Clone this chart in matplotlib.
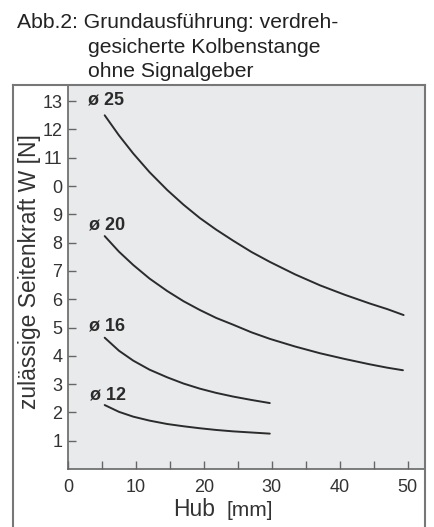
import matplotlib
matplotlib.use("Agg")
import matplotlib.pyplot as plt
from matplotlib.lines import Line2D

plt.rcParams['font.family'] = ['Liberation Sans', 'DejaVu Sans']

# Hub [mm] / zulässige Seitenkraft W [N]
hub_25 = [5.4, 7.5, 9.6, 12.0, 14.6, 17.0, 19.4, 21.8, 24.3, 27.0, 29.7,
          33.4, 37.1, 40.7, 44.4, 47.0, 49.4]
kraft_25 = [12.5, 11.79, 11.15, 10.49, 9.86, 9.34, 8.87, 8.46, 8.07, 7.67, 7.32,
            6.88, 6.49, 6.16, 5.85, 5.65, 5.44]

hub_20 = [5.4, 7.5, 9.6, 12.0, 14.6, 17.0, 19.4, 21.8, 24.3, 27.0, 29.7,
          33.4, 37.1, 40.7, 44.4, 47.0, 49.3]
kraft_20 = [8.23, 7.68, 7.21, 6.73, 6.29, 5.93, 5.62, 5.34, 5.10, 4.83, 4.60,
            4.33, 4.09, 3.89, 3.70, 3.58, 3.49]

hub_16 = [5.4, 7.5, 9.6, 12.0, 14.6, 17.0, 19.4, 21.8, 24.3, 27.0, 29.7]
kraft_16 = [4.64, 4.18, 3.83, 3.51, 3.24, 3.02, 2.84, 2.69, 2.56, 2.44, 2.33]

hub_12 = [5.4, 7.5, 9.6, 12.0, 14.6, 17.0, 19.4, 21.8, 24.3, 27.0, 29.7]
kraft_12 = [2.26, 2.02, 1.85, 1.71, 1.59, 1.51, 1.44, 1.38, 1.33, 1.29, 1.25]

curve_labels = ['ø 25', 'ø 20', 'ø 16', 'ø 12']
label_x = [2.9, 3.1, 3.1, 3.2]
label_y = [13.04, 8.62, 5.05, 2.61]

x_ticks = [0, 10, 20, 30, 40, 50]
x_minor = [5, 15, 25, 35, 45]
y_ticks = list(range(1, 14))
y_tick_labels = ['1', '2', '3', '4', '5', '6', '7', '8', '9', '0', '11', '12', '13']

title_lines = ['Abb.2: Grundausführung: verdreh-',
               'gesicherte Kolbenstange',
               'ohne Signalgeber']

W, H = 435, 527
fig = plt.figure(figsize=(W / 100, H / 100), dpi=100)
ax = fig.add_axes([68 / W, 1 - 469 / H, (424 - 68) / W, (469 - 85) / H])
ax.set_facecolor('#e9eaec')

for xs, ys in [(hub_25, kraft_25), (hub_20, kraft_20),
               (hub_16, kraft_16), (hub_12, kraft_12)]:
    ax.plot(xs, ys, color='#2b2b2b', lw=1.4, solid_capstyle='round',
            solid_joinstyle='round')

for lab, lx, ly in zip(curve_labels, label_x, label_y):
    ax.text(lx, ly, lab, ha='left', va='center', fontsize=13,
            fontweight='bold', color='#2b2b2b')

ax.set_xlim(0, 52.4)
ax.set_ylim(0, 13.57)
ax.set_xticks(x_ticks)
ax.set_xticks(x_minor, minor=True)
ax.set_yticks(y_ticks)
ax.set_yticklabels(y_tick_labels)
ax.tick_params(which='both', direction='in', length=6, width=1, color='#666')
ax.tick_params(axis='y', pad=4, labelsize=13, labelcolor='#333')
ax.tick_params(axis='x', pad=7, labelsize=13, labelcolor='#333')

for side in ['top', 'right']:
    ax.spines[side].set_visible(False)
for side in ['left', 'bottom']:
    ax.spines[side].set_color('#666')
    ax.spines[side].set_linewidth(1.2)

# outer frame
frame_col = '#777'
fig.add_artist(Line2D([13 / W, 13 / W], [0, 1 - 85 / H], transform=fig.transFigure,
                      color=frame_col, lw=1.5))
fig.add_artist(Line2D([425 / W, 425 / W], [0, 1 - 85 / H], transform=fig.transFigure,
                      color=frame_col, lw=1.5))
fig.add_artist(Line2D([13 / W, 425 / W], [1 - 85 / H, 1 - 85 / H], transform=fig.transFigure,
                      color=frame_col, lw=1.5))

# title
fig.text(17 / W, 1 - 28 / H, title_lines[0], fontsize=15.2, va='baseline', color='#222')
fig.text(88 / W, 1 - 53 / H, title_lines[1], fontsize=15.2, va='baseline', color='#222')
fig.text(88 / W, 1 - 77 / H, title_lines[2], fontsize=15.2, va='baseline', color='#222')

# axis labels
fig.text(30 / W, 1 - 272 / H, 'zulässige Seitenkraft W [N]', rotation=90,
         ha='center', va='center', fontsize=16.5, color='#333')
fig.text(173 / W, 1 - 516 / H, 'Hub', fontsize=16.5, va='baseline', color='#333')
fig.text(227 / W, 1 - 516 / H, '[mm]', fontsize=15, va='baseline', color='#333')

fig.savefig('out.png', dpi=100)
